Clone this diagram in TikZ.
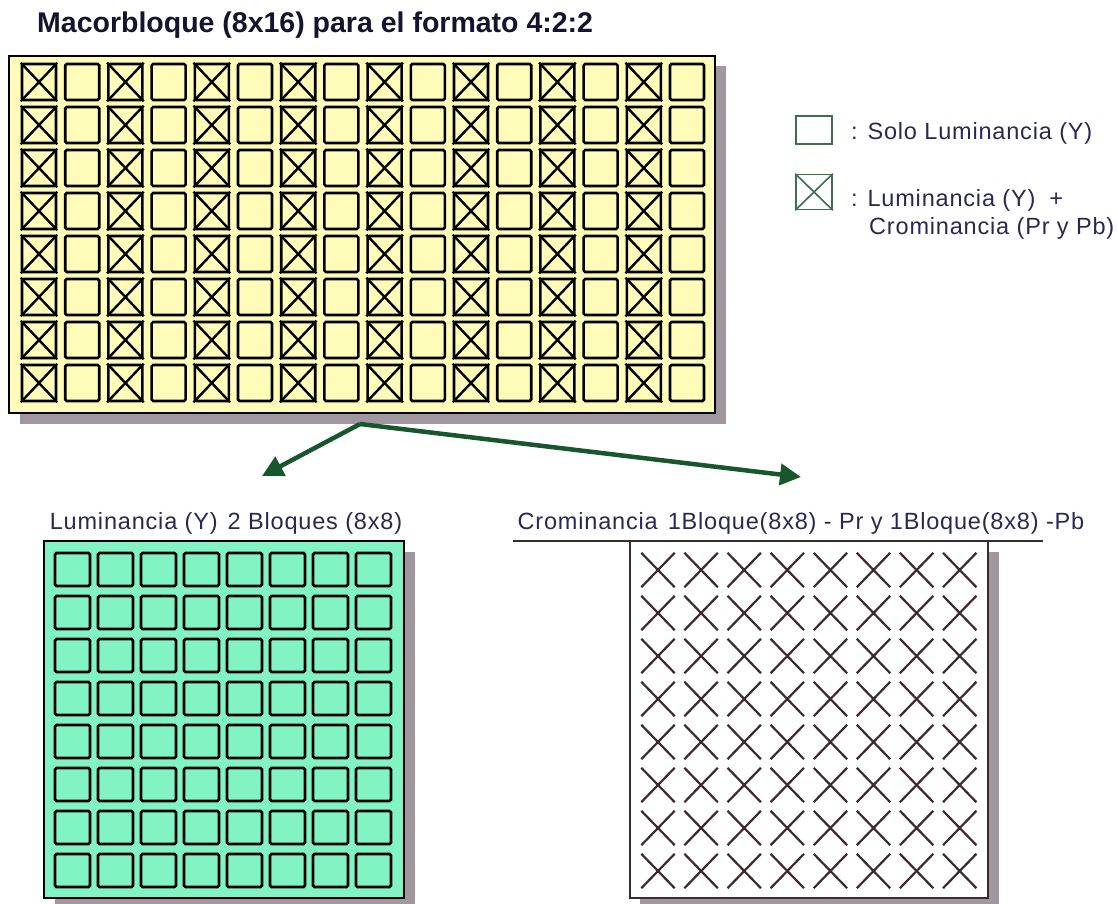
\documentclass[tikz,border=0pt]{standalone}
\usepackage{fontspec}
\setmainfont{Liberation Sans}
\newfontfamily\labelfont[LetterSpace=3.5]{Liberation Sans}
\usetikzlibrary{arrows.meta}

\definecolor{macroyellow}{RGB}{255,252,186}
\definecolor{lumagreen}{RGB}{130,243,194}
\definecolor{flowgreen}{RGB}{24,86,46}
\definecolor{shadowgray}{RGB}{160,152,158}
\definecolor{inkblue}{RGB}{42,40,80}
\definecolor{titleink}{RGB}{20,20,46}
\definecolor{crossink}{RGB}{60,42,46}

\tikzset{
  cell/.style={draw=black,line width=2.6pt,rounded corners=1.5pt,inner sep=0pt},
  keybox/.style={draw=flowgreen!85,line width=1.6pt,inner sep=0pt,minimum width=36pt},
  xline/.style={line width=2.4pt},
  flow/.style={draw=flowgreen,line width=4.5pt,-{Triangle[length=21pt,width=21pt]}},
  txt/.style={text=inkblue,inner sep=0pt,font=\labelfont\fontsize{23.5}{27}\selectfont},
}

\begin{document}
\begin{tikzpicture}[x=1pt,y=-1pt]
\useasboundingbox (0,0) rectangle (1118,904);

% macrobloque 8x16
\node[anchor=base west,inner sep=0pt,text=titleink,font=\bfseries\fontsize{28.5}{32}\selectfont] (title) at (37,33) {Macorbloque (8x16) para el formato 4:2:2};
\fill[shadowgray] (20,66) rectangle (726,424);
\draw[fill=macroyellow,line width=1.5pt] (9,56) rectangle (715,413);
\foreach \r in {0,...,7}
  \foreach \c in {0,...,15} {
    \node[cell,minimum width=34pt,minimum height=36pt] (m-\r-\c) at (39+43.2*\c,82+43*\r) {};
    \ifodd\c\relax\else
      \draw[xline] (m-\r-\c.north west) -- (m-\r-\c.south east)
                   (m-\r-\c.south west) -- (m-\r-\c.north east);
    \fi
  }

% leyenda
\node[keybox,minimum height=28pt] (keyY) at (814,130) {};
\node[txt,anchor=west] (keyYtxt) at (851,133) {: Solo Luminancia (Y)};
\node[keybox,minimum height=35pt] (keyYC) at (814,192) {};
\draw[flowgreen!85,line width=1.6pt] (keyYC.north west) -- (keyYC.south east)
                                     (keyYC.south west) -- (keyYC.north east);
\node[txt,anchor=west] (keyYCtxt) at (851,200) {: Luminancia (Y)\hspace{14pt}+};
\node[txt,anchor=west] (keyYCtxt2) at (869,228) {Crominancia (Pr y Pb)};

% flechas hacia los bloques
\coordinate (split) at (360,424);
\coordinate (lumTip) at (262,476);
\coordinate (chromTip) at (801,477);
\draw[flow] (split) -- (lumTip);
\draw[flow] (split) -- (chromTip);

% luminancia 8x8
\node[txt] (lumLabel) at (226,523) {Luminancia (Y)\hspace{10pt}2 Bloques (8x8)};
\fill[shadowgray] (55,552) rectangle (415,904);
\draw[fill=lumagreen,line width=1.5pt] (44,541) rectangle (404,898);
\foreach \r in {0,...,7}
  \foreach \c in {0,...,7}
    \node[cell,minimum width=35pt,minimum height=33pt] (y-\r-\c) at (72.5+43*\c,569.5+43*\r) {};

% crominancia 8x8
\node[txt] (chromLabel) at (801,523) {Crominancia\hspace{10pt}1Bloque(8x8) - Pr y 1Bloque(8x8) -Pb};
\fill[shadowgray] (640,552) rectangle (999,904);
\draw[fill=white,line width=1.5pt,draw=crossink] (630,541) rectangle (988,898);
\draw[line width=1.5pt,crossink] (513,541) -- (1043,541);
\foreach \r in {0,...,7}
  \foreach \c in {0,...,7} {
    \path (658+43.1*\c,570+43*\r) node[inner sep=0pt,minimum width=33pt,minimum height=34pt] (x-\r-\c) {};
    \draw[xline,crossink,line width=2.2pt] (x-\r-\c.north west) -- (x-\r-\c.south east)
                                           (x-\r-\c.south west) -- (x-\r-\c.north east);
  }
\end{tikzpicture}
\end{document}
